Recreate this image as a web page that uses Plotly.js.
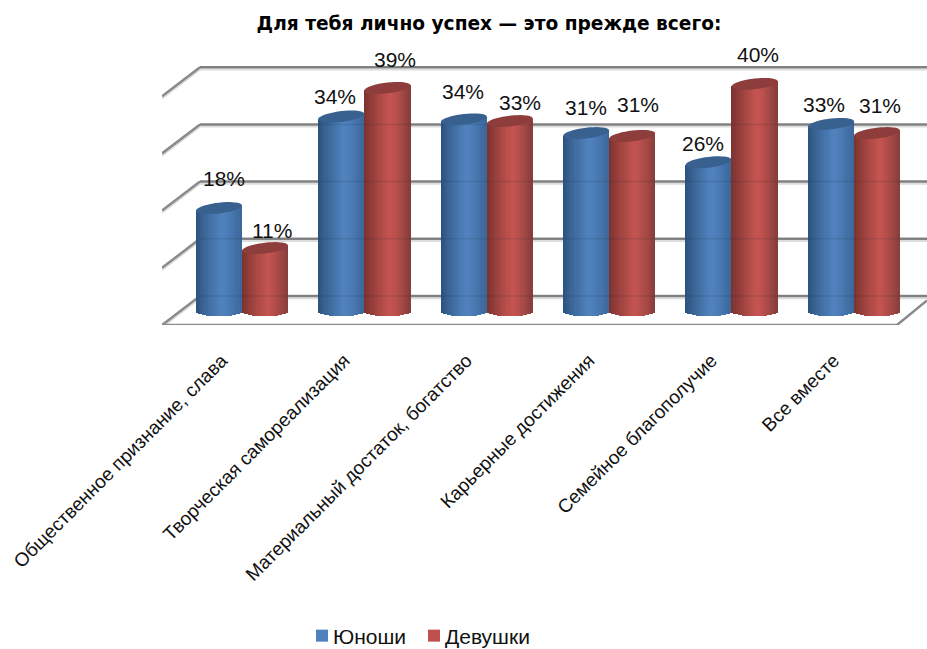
<!DOCTYPE html>
<html>
<head>
<meta charset="utf-8">
<script src="https://cdn.plot.ly/plotly-3.0.1.min.js"></script>
<style>html,body{margin:0;padding:0;background:#fff}</style>
</head>
<body>
<div id="chart" style="width:927px;height:649px"></div>
<script>
// ---- data ----
var categories = [
  "Общественное признание, слава",
  "Творческая самореализация",
  "Материальный достаток, богатство",
  "Карьерные достижения",
  "Семейное благополучие",
  "Все вместе"
];
var boys  = [18, 34, 33.5, 31.1, 26, 32.7];
var girls = [11, 39, 33.2, 30.6, 39.7, 31.1];
var gridValues = [0, 10, 20, 30, 40];
var chartTitle = "Для тебя лично успех — это прежде всего:";

// ---- label placement (pixels relative to the top of each column) ----
var boysNudgeX  = [5, -6, -1, 0, -6, -7];
var boysNudgeY  = [30, 20.5, 28, 26, 19, 19];
var girlsNudgeX = [7, 8, 10, 6, 3, 3];
var girlsNudgeY = [18, 28, 19, 31, 29, 28];
var legendTextLeft = [333, 445];

// ---- geometry of the simulated 3D scene ----
var W = 927, H = 649;
var plotL = 162, plotR = 927, plotT = 40, plotB = 325;
var catStep = 122.4, cat0 = 242;    // px
var unit = 5.72, zeroPx = 311;      // px per value unit
var xr = [(plotL - cat0) / catStep, (plotR - cat0) / catStep];
var yr = [(zeroPx - plotB) / unit, (zeroPx - plotT) / unit];
var barW = 46 / catStep;
var backDY = 15 / unit;             // back wall sits higher than the columns' base
var frontDY = (zeroPx - plotB) / unit;
var xBack = (200 - cat0) / catStep;
var xFrontRight = (897 - cat0) / catStep;
var ellB = 5.4 / unit;              // half height of column caps
var tilt = 2.6 / unit;              // caps rise to the right
var STRIPS = 22;

function mix(a, b, k) { return a.map(function (v, i) { return Math.round(v + (b[i] - v) * k); }); }
function shade(st, t) {
  var c = t < st.peak ? mix(st.left, st.mid, Math.pow(t / st.peak, 0.8))
                      : mix(st.mid, st.right, Math.pow((t - st.peak) / (1 - st.peak), 1.4));
  return "rgb(" + c.join(",") + ")";
}
var blueStyle = { left: [42, 80, 122], mid: [80, 130, 190], right: [58, 102, 152], peak: 0.55, cap: "#38618f", flat: "#4f81bd" };
var redStyle  = { left: [118, 48, 46], mid: [196, 84, 80], right: [132, 60, 58], peak: 0.55, cap: "#8d3d3b", flat: "#c0504d" };

var traces = [], shapes = [], annotations = [];

function addSeries(name, values, dir, style, nudgeX, nudgeY) {
  var centers = values.map(function (_, i) { return i + dir * barW / 2; });
  // base column carrying the data and the legend entry
  traces.push({
    type: "bar", name: name, x: centers, y: values, width: barW * 0.7,
    marker: { color: style.flat, line: { width: 0 } }, hoverinfo: "skip"
  });
  // vertical strips that paint the cylinder's shading
  for (var s = 0; s < STRIPS; s++) {
    var t = (s + 0.5) / STRIPS, u = 2 * t - 1;
    var drop = ellB * Math.sqrt(1 - u * u);
    traces.push({
      type: "bar", showlegend: false, hoverinfo: "skip",
      x: centers.map(function (c) { return c + u * barW / 2; }),
      y: values.map(function (v) { return v + tilt * u + drop; }),
      base: values.map(function () { return -drop; }),
      width: barW / STRIPS * 1.25,
      marker: { color: shade(style, t), line: { width: 0 } }
    });
  }
  // caps + value labels
  values.forEach(function (v, i) {
    var d = "";
    for (var k = 0; k <= 40; k++) {
      var a = k / 40 * 2 * Math.PI;
      d += (k ? "L" : "M") + (centers[i] + Math.cos(a) * barW / 2) + "," +
           (v + ellB * Math.sin(a) + tilt * Math.cos(a));
    }
    shapes.push({ type: "path", path: d + "Z", xref: "x", yref: "y", layer: "above",
      fillcolor: style.cap, line: { width: 0 } });
    annotations.push({
      x: centers[i], y: v, xref: "x", yref: "y", text: Math.round(v) + "%",
      showarrow: false, xanchor: "center", yanchor: "middle",
      xshift: nudgeX[i], yshift: nudgeY[i],
      font: { family: "Liberation Sans, Arial, sans-serif", size: 21, color: "#111" }
    });
  });
}

// back wall, side wall and floor
var lineCol = "#8a8a8a", glowCol = "#dcdcdc";
function seg(x0, y0, x1, y1, col, w, layer, op) {
  shapes.push({ type: "line", xref: "x", yref: "y", x0: x0, y0: y0, x1: x1, y1: y1,
    layer: layer || "below", opacity: op === undefined ? 1 : op, line: { color: col, width: w } });
}
var drop = 2.2 / unit;
gridValues.forEach(function (g) {
  seg(xBack, g + backDY - drop, xr[1], g + backDY - drop, glowCol, 2);
  seg(xBack, g + backDY, xr[1], g + backDY, lineCol, 2.5);
  seg(xr[0], g + frontDY - drop, xBack, g + backDY - drop, glowCol, 2);
  seg(xr[0], g + frontDY, xBack, g + backDY, lineCol, 2.5);
  seg(xBack, g + backDY, xr[1], g + backDY, "#1a2a3a", 1.5, "above", 0.13);
});
seg(xr[0], frontDY - drop, xFrontRight, frontDY - drop, glowCol, 2);
seg(xr[0], frontDY, xFrontRight, frontDY, lineCol, 2.5);
seg(xFrontRight, frontDY, xr[1], frontDY + 24.5 / unit, lineCol, 2.5);

addSeries("Юноши", boys, -1, blueStyle, boysNudgeX, boysNudgeY);
addSeries("Девушки", girls, 1, redStyle, girlsNudgeX, girlsNudgeY);

var layout = {
  width: W, height: H, autosize: false,
  paper_bgcolor: "#fff", plot_bgcolor: "#fff",
  margin: { l: plotL, r: W - plotR, t: plotT, b: H - plotB, pad: 0 },
  barmode: "overlay", bargap: 0,
  title: { text: "<b>" + chartTitle + "</b>", x: 489 / W, xanchor: "center", y: 1 - 23 / H, yanchor: "middle",
    font: { family: "DejaVu Sans, Arial, sans-serif", size: 18.6, color: "#000" } },
  xaxis: {
    range: xr, tickmode: "array", tickvals: categories.map(function (_, i) { return i - 0.165; }), ticktext: categories,
    tickangle: -45, showgrid: false, zeroline: false, showline: false,
    ticks: "outside", ticklen: 16, tickcolor: "rgba(0,0,0,0)", automargin: false,
    tickfont: { family: "Liberation Sans, Arial, sans-serif", size: 19, color: "#111" }
  },
  yaxis: { range: yr, visible: false, showgrid: false, zeroline: false },
  shapes: shapes, annotations: annotations,
  showlegend: true,
  legend: { orientation: "h", xref: "container", yref: "container", x: 424 / W, xanchor: "center",
    y: (H - 636) / H, yanchor: "middle",
    font: { family: "Liberation Sans, Arial, sans-serif", size: 21, color: "#111" }, bgcolor: "rgba(0,0,0,0)" }
};
Plotly.newPlot("chart", traces, layout, { staticPlot: true, displayModeBar: false }).then(function () {
  // tighten the swatch-to-label gap of the legend and seat each entry
  var host = document.getElementById("chart").getBoundingClientRect().left;
  document.querySelectorAll(".legend .scrollbox").forEach(function (b) { b.removeAttribute("clip-path"); b.style.clipPath = "none"; });
  document.querySelectorAll(".legend .traces").forEach(function (g, i) {
    var txt = g.querySelector(".legendtext");
    txt.setAttribute("x", parseFloat(txt.getAttribute("x")) - 9);
    var m = /translate\(([-\d.]+)[ ,]+([-\d.]+)\)/.exec(g.getAttribute("transform"));
    var dx = legendTextLeft[i] - (txt.getBoundingClientRect().left - host);
    g.setAttribute("transform", "translate(" + (parseFloat(m[1]) + dx) + "," + m[2] + ")");
  });
});
</script>
</body>
</html>
